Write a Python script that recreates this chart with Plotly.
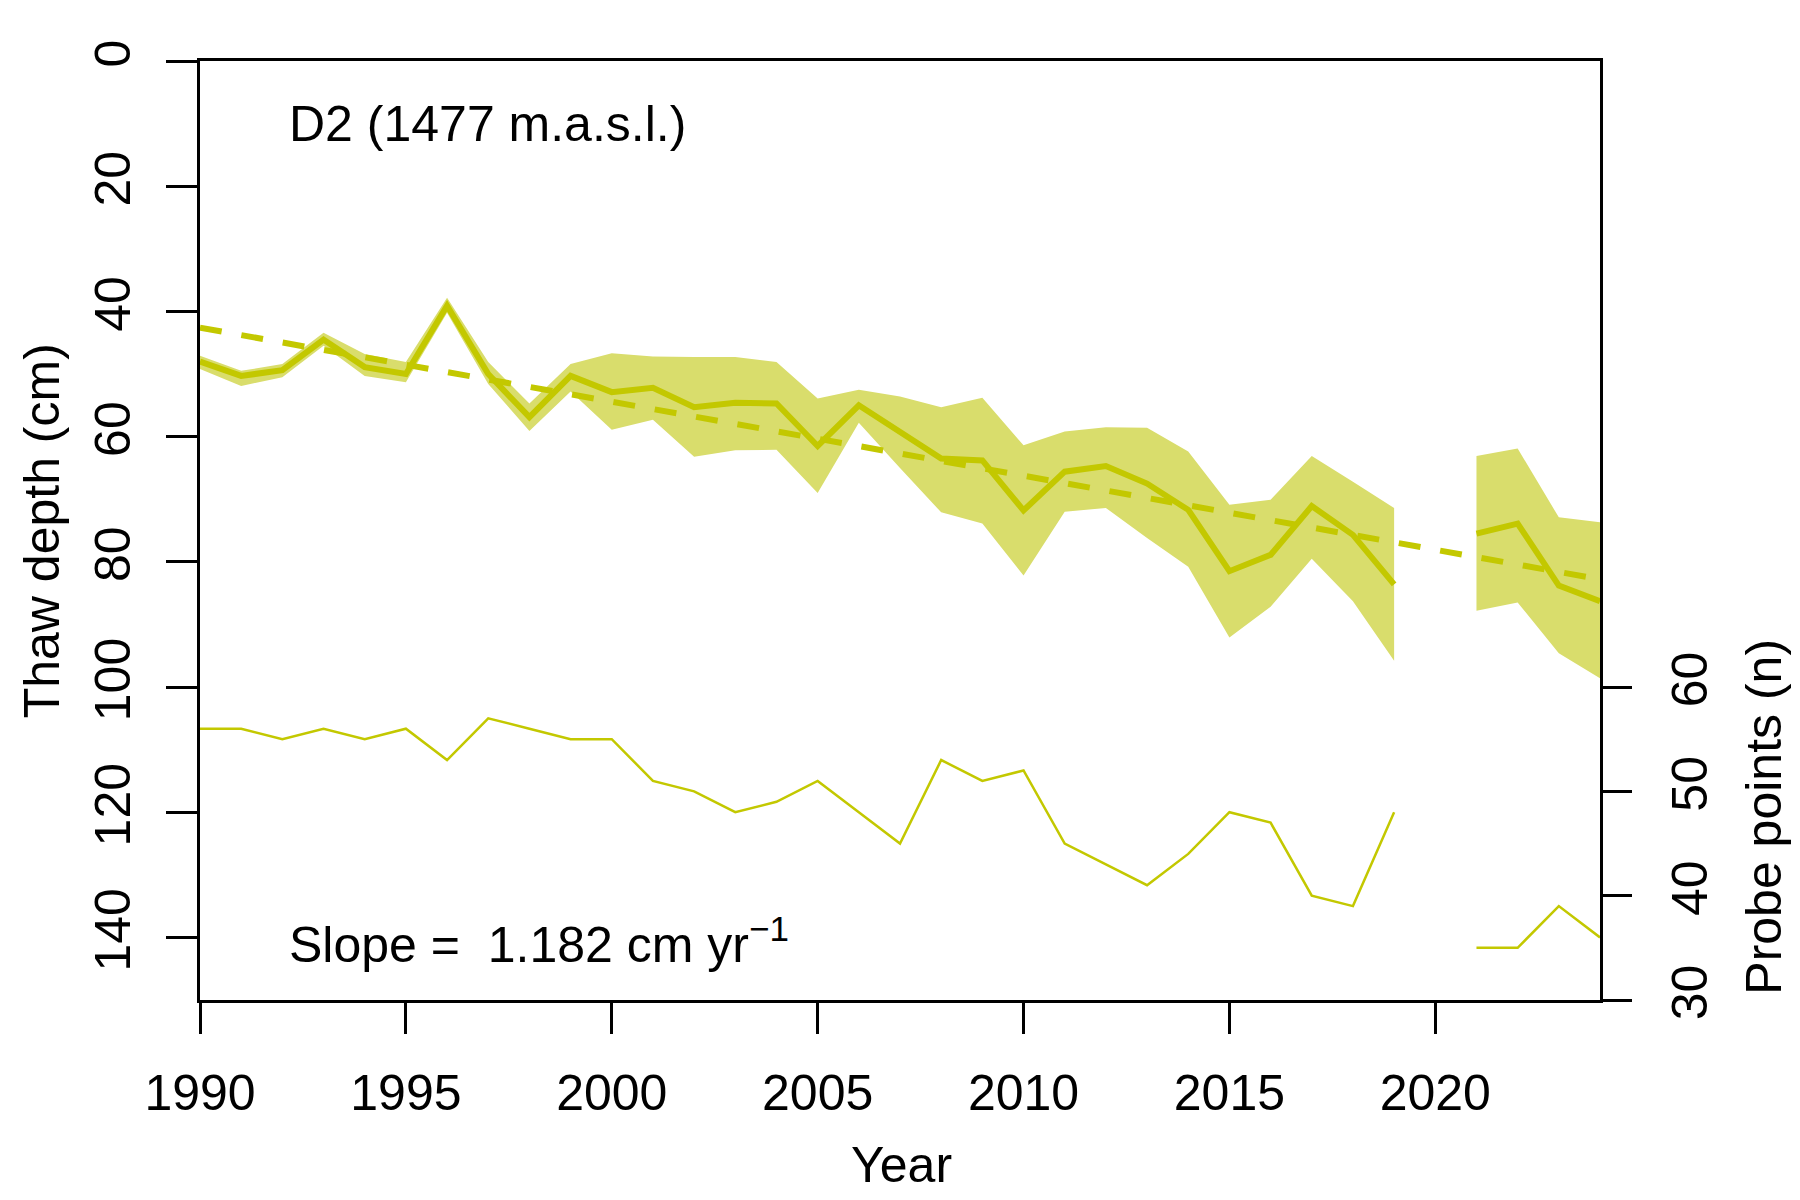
import plotly.graph_objects as go

# yearly values, 2020 missing
years = list(range(1990, 2025))
depth_mean = [48.0, 50.3, 49.4, 44.5, 48.9, 50.0, 39.1, 50.0, 56.9, 50.3,
              52.9, 52.2, 55.3, 54.6, 54.7, 61.5, 55.0, 59.2, 63.5, 63.8,
              71.8, 65.6, 64.7, 67.5, 71.7, 81.5, 78.9, 71.1, 75.7, 83.6,
              None, 75.5, 73.9, 83.8, 86.3]
depth_upper = [47.1, 49.5, 48.4, 43.4, 46.8, 48.1, 37.8, 48.1, 54.7, 48.4,
               46.7, 47.2, 47.3, 47.3, 48.1, 53.9, 52.5, 53.6, 55.3, 53.8,
               61.4, 59.2, 58.5, 58.6, 62.4, 70.9, 70.1, 63.1, 67.2, 71.4,
               None, 63.1, 61.9, 72.9, 73.7]
depth_lower = [49.2, 51.9, 50.5, 45.5, 50.3, 51.3, 40.2, 51.6, 59.1, 52.8,
               58.9, 57.3, 63.2, 62.2, 62.1, 69.0, 57.8, 65.0, 72.1, 73.9,
               82.2, 72.0, 71.4, 76.2, 80.8, 92.1, 87.2, 79.5, 86.3, 95.8,
               None, 87.8, 86.5, 94.6, 98.6]
probes = [56, 56, 55, 56, 55, 56, 53, 57, 56, 55,
          55, 51, 50, 48, 49, 51, 48, 45, 53, 51,
          52, 45, 43, 41, 44, 48, 47, 40, 39, 48,
          None, 35, 35, 39, 36]
trend_years = [1990, 2024]
trend_depth = [42.6, 82.8]

x_ticks = [1990, 1995, 2000, 2005, 2010, 2015, 2020]
depth_ticks = [0, 20, 40, 60, 80, 100, 120, 140]
probe_ticks = [30, 40, 50, 60]

LINE = "#c3c800"
BAND = "#d9dd6c"
FONT = "Liberation Sans, Arial, sans-serif"

fig = go.Figure()

# band polygons, one per unbroken run of years
runs, cur = [], []
for i, v in enumerate(depth_mean):
    if v is None:
        if cur:
            runs.append(cur)
        cur = []
    else:
        cur.append(i)
if cur:
    runs.append(cur)

for run in runs:
    xs = [years[i] for i in run] + [years[i] for i in reversed(run)]
    ys = [depth_upper[i] for i in run] + [depth_lower[i] for i in reversed(run)]
    fig.add_trace(go.Scatter(x=xs, y=ys, fill="toself", fillcolor=BAND,
                             line=dict(width=0), mode="lines",
                             hoverinfo="skip", showlegend=False))

fig.add_trace(go.Scatter(x=years, y=depth_mean, mode="lines",
                         line=dict(color=LINE, width=6),
                         connectgaps=False, showlegend=False))
fig.add_trace(go.Scatter(x=trend_years, y=trend_depth, mode="lines",
                         line=dict(color=LINE, width=6, dash="22px,20px"),
                         showlegend=False))
fig.add_trace(go.Scatter(x=years, y=probes, mode="lines", yaxis="y2",
                         line=dict(color=LINE, width=2.5),
                         connectgaps=False, showlegend=False))

tickfont = dict(family=FONT, size=50, color="black")
fig.update_layout(
    width=1800, height=1200,
    # page body adds 8px on the top/left, margins compensate
    margin=dict(l=192, r=208, t=53, b=208),
    paper_bgcolor="white", plot_bgcolor="white",
    font=dict(family=FONT, size=50, color="black"),
    xaxis=dict(range=[1990, 2024], tickvals=x_ticks, ticks="outside",
               ticklen=31, tickwidth=2.5, tickcolor="black",
               showline=True, linewidth=2.5, linecolor="black", mirror=True,
               showgrid=False, zeroline=False, tickfont=tickfont,
               ticklabelstandoff=16),
    yaxis=dict(range=[150, 0], tickvals=depth_ticks, ticks="outside",
               ticklen=31, tickwidth=2.5, tickcolor="black", tickangle=-90,
               showline=True, linewidth=2.5, linecolor="black", mirror=True,
               showgrid=False, zeroline=False, tickfont=tickfont,
               ticklabelstandoff=16),
    yaxis2=dict(range=[30, 120], tickvals=probe_ticks, ticks="outside",
                ticklen=31, tickwidth=2.5, tickcolor="black", tickangle=-90,
                overlaying="y", side="right", showline=False,
                showgrid=False, zeroline=False, tickfont=tickfont,
                ticklabelstandoff=15),
)

fig.add_annotation(x=1992.12, y=10, xref="x", yref="y", text="D2 (1477 m.a.s.l.)",
                   showarrow=False, xanchor="left", yanchor="middle",
                   font=dict(size=50))
fig.add_annotation(x=1992.12, y=140.5, xref="x", yref="y",
                   text="Slope =  1.182 cm yr<sup>−1</sup>",
                   showarrow=False, xanchor="left", yanchor="middle",
                   font=dict(size=50))
fig.add_annotation(x=-0.113, y=0.5, xref="paper", yref="paper",
                   text="Thaw depth (cm)", textangle=-90, showarrow=False,
                   xanchor="center", yanchor="middle", font=dict(size=50))
fig.add_annotation(x=1.117, y=0.195, xref="paper", yref="paper",
                   text="Probe points (n)", textangle=-90, showarrow=False,
                   xanchor="center", yanchor="middle", font=dict(size=50))
fig.add_annotation(x=0.501, y=-0.176, xref="paper", yref="paper",
                   text="Year", showarrow=False,
                   xanchor="center", yanchor="middle", font=dict(size=50))

fig.write_html("out.html")
